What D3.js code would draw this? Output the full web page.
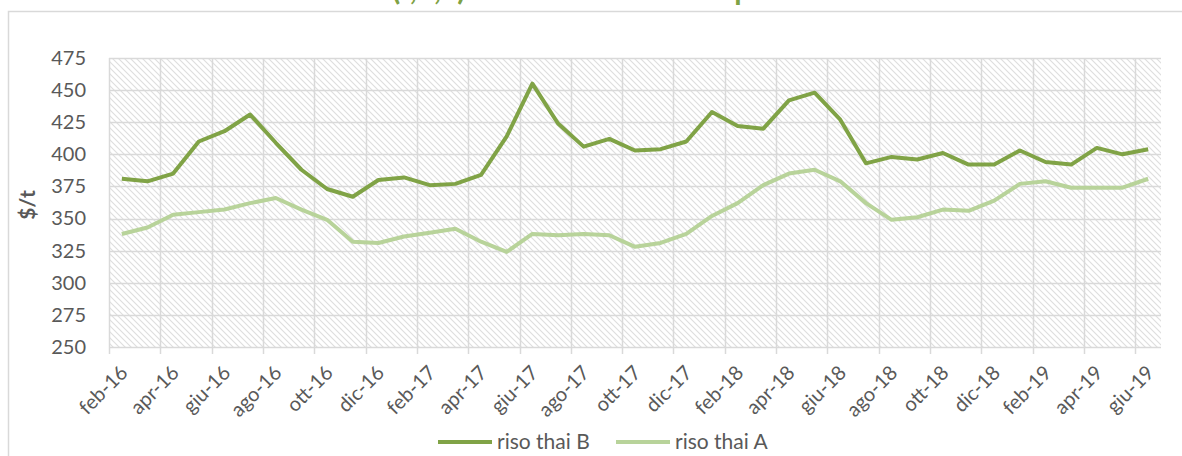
<!DOCTYPE html>
<html>
<head>
<meta charset="utf-8">
<script src="https://cdnjs.cloudflare.com/ajax/libs/d3/7.8.5/d3.min.js"></script>
<style>
    body { margin: 0; background: #fff; }
    svg { display: block; font-family: Lato, "Open Sans", sans-serif; }
</style>
</head>
<body>
<svg id="chart" width="1182" height="456"></svg>
<script>
// monthly prices, feb-16 .. giu-19
var months = [
    'feb-16', 'mar-16', 'apr-16', 'mag-16', 'giu-16', 'lug-16', 'ago-16', 'set-16', 'ott-16', 'nov-16', 'dic-16',
    'gen-17', 'feb-17', 'mar-17', 'apr-17', 'mag-17', 'giu-17', 'lug-17', 'ago-17', 'set-17', 'ott-17', 'nov-17', 'dic-17',
    'gen-18', 'feb-18', 'mar-18', 'apr-18', 'mag-18', 'giu-18', 'lug-18', 'ago-18', 'set-18', 'ott-18', 'nov-18', 'dic-18',
    'gen-19', 'feb-19', 'mar-19', 'apr-19', 'mag-19', 'giu-19'
];
var risoThaiB = [381, 379, 385, 410, 418, 431, 409, 388, 373, 367, 380,
    382, 376, 377, 384, 414, 455, 424, 406, 412, 403, 404, 410,
    433, 422, 420, 442, 448, 427, 393, 398, 396, 401, 392, 392,
    403, 394, 392, 405, 400, 404];
var risoThaiA = [338, 343, 353, 355, 357, 362, 366, 357, 349, 332, 331,
    336, 339, 342, 332, 324, 338, 337, 338, 337, 328, 331, 338,
    352, 362, 376, 385, 388, 379, 362, 349, 351, 357, 356, 364,
    377, 379, 374, 374, 374, 381];
var yTicks = [250, 275, 300, 325, 350, 375, 400, 425, 450, 475];
var seriesNames = ['riso thai B', 'riso thai A'];

var titleText = 'Riso thailandese (f,o,b) \u2013 trend mensile dei prezzi';
var titlePrefix = 'Riso thailandese ';

var colors = ['#80a346', '#b8d39a'];
var grid = '#d9d9d9';
var textColor = '#595959';

var svg = d3.select('#chart');
var plotLeft = 109, plotRight = 1161, plotTop = 58, plotBottom = 347;

var x = d3.scaleBand().domain(months).range([plotLeft, plotRight]).padding(0);
var y = d3.scaleLinear().domain([250, 475]).range([plotBottom, plotTop]);
var cx = function (m) {
    return x(m) + x.bandwidth() / 2;
};

// outer chart frame (only top and left edges are in view)
svg.append('path')
    .attr('d', 'M8.5,456 L8.5,11.5 L1182,11.5')
    .attr('fill', 'none')
    .attr('stroke', grid)
    .attr('stroke-width', 1.5);

// title, mostly cut off at the top
var title = svg.append('text')
    .attr('y', 0)
    .attr('fill', '#7fa244')
    .attr('font-weight', 'bold')
    .attr('font-size', 30)
    .text(titleText);
var pre = title.node().getSubStringLength(0, titlePrefix.length);
title.attr('x', 392 - pre);

// hatched plot background
var defs = svg.append('defs');
var pat = defs.append('pattern')
    .attr('id', 'hatch')
    .attr('patternUnits', 'userSpaceOnUse')
    .attr('width', 6)
    .attr('height', 6);
pat.append('rect').attr('width', 6).attr('height', 6).attr('fill', '#fff');
pat.append('path')
    .attr('d', 'M-1,-1 L7,7 M-1,5 L1,7 M5,-1 L7,1')
    .attr('stroke', '#dedede')
    .attr('stroke-width', 1.1);

svg.append('rect')
    .attr('x', plotLeft)
    .attr('y', plotTop)
    .attr('width', plotRight - plotLeft)
    .attr('height', plotBottom - plotTop)
    .attr('fill', 'url(#hatch)');

var tickMonths = months.filter(function (d, i) {
    return i % 2 === 0;
});

// gridlines
svg.append('g').selectAll('line')
    .data(yTicks)
    .enter()
    .append('line')
    .attr('x1', plotLeft)
    .attr('x2', plotRight)
    .attr('y1', function (d) { return Math.round(y(d)) + 0.5; })
    .attr('y2', function (d) { return Math.round(y(d)) + 0.5; })
    .attr('stroke', grid)
    .attr('stroke-width', 1.5);

svg.append('g').selectAll('line')
    .data(tickMonths)
    .enter()
    .append('line')
    .attr('x1', function (d) { return Math.round(x(d)) + 0.5; })
    .attr('x2', function (d) { return Math.round(x(d)) + 0.5; })
    .attr('y1', plotTop)
    .attr('y2', plotBottom + 7)
    .attr('stroke', grid)
    .attr('stroke-width', 1.5);

// y axis labels
var yAxis = d3.axisLeft(y).tickValues(yTicks).tickSize(0).tickPadding(0);
var gy = svg.append('g')
    .attr('transform', 'translate(86,0)')
    .call(yAxis);
gy.select('.domain').remove();
gy.selectAll('text')
    .attr('fill', textColor)
    .attr('font-size', 20)
    .attr('font-family', 'Lato, sans-serif');

svg.append('text')
    .attr('transform', 'translate(35,205) rotate(-90)')
    .attr('text-anchor', 'middle')
    .attr('fill', textColor)
    .attr('font-size', 21)
    .attr('font-weight', 'bold')
    .text('$/t');

// x axis labels
svg.append('g').selectAll('text')
    .data(tickMonths)
    .enter()
    .append('text')
    .attr('transform', function (d) {
        return 'translate(' + (x(d) + 15) + ',369) rotate(-45)';
    })
    .attr('text-anchor', 'end')
    .attr('dy', '0.35em')
    .attr('fill', textColor)
    .attr('font-size', 20)
    .text(function (d) { return d; });

// lines
var line = d3.line()
    .x(function (d, i) { return cx(months[i]); })
    .y(function (d) { return y(d); });

[risoThaiB, risoThaiA].forEach(function (s, k) {
    svg.append('path')
        .datum(s)
        .attr('d', line)
        .attr('fill', 'none')
        .attr('stroke', colors[k])
        .attr('stroke-width', 4)
        .attr('stroke-linejoin', 'round');
});

// legend
var legendX = [438, 616];
seriesNames.forEach(function (name, k) {
    svg.append('line')
        .attr('x1', legendX[k])
        .attr('x2', legendX[k] + 54)
        .attr('y1', 442)
        .attr('y2', 442)
        .attr('stroke', colors[k])
        .attr('stroke-width', 4);
    svg.append('text')
        .attr('x', legendX[k] + 59)
        .attr('y', 449)
        .attr('fill', textColor)
        .attr('font-size', 21)
        .text(name);
});
</script>
</body>
</html>
